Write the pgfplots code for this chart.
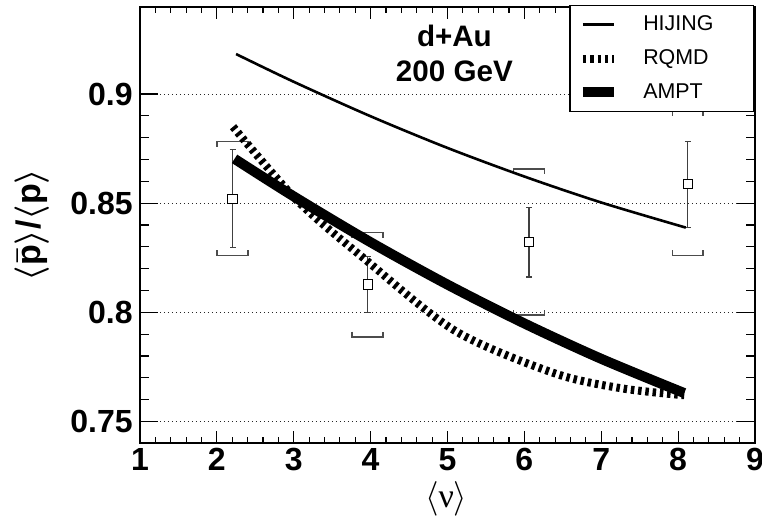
\documentclass[border=0pt]{standalone}
\usepackage{pgfplots}
\pgfplotsset{compat=1.18}
\usepackage{fontspec}
\setmainfont{Liberation Sans}
\newfontfamily\serifgr{Liberation Serif}
\begin{document}
\begin{tikzpicture}
\useasboundingbox (-70pt,-36.85pt) rectangle (311pt,221.65pt);
\begin{axis}[
  scale only axis, width=307.5pt, height=218.3pt,
  at={(0,0)}, anchor=south west,
  xmin=1, xmax=9, ymin=0.74, ymax=0.94,
  xtick={1,2,3,4,5,6,7,8,9}, xticklabels={1,2,3,4,5,6,7,8,9},
  ytick={0.75,0.8,0.85,0.9}, yticklabels={0.75,0.8,0.85,0.9},
  minor x tick num=4, minor y tick num=4,
  tick align=inside, tick pos=both,
  xtick style={black, line width=0.6pt, /pgfplots/major tick length=6pt, /pgfplots/minor tick length=3pt},
  ytick style={black, line width=0.6pt, /pgfplots/major tick length=9pt, /pgfplots/minor tick length=4.5pt},
  ymajorgrids, major grid style={black!85, line width=0.5pt, dash pattern=on 0.6pt off 1.4pt},
  axis line style={line width=0.9pt},
  tick label style={font=\fontsize{16}{18}\selectfont\bfseries},
  xticklabel style={inner sep=0pt, yshift=-2.4pt},
  yticklabel style={inner sep=0pt, xshift=-3.5pt},
  xlabel={$\langle$\serifgr ν$\rangle$},
  xlabel style={at={(axis description cs:0.498,-0.128)}, anchor=center, font=\fontsize{17}{20}\selectfont},
  ylabel={$\langle\bar{\mbox{p}}\rangle$/$\langle\mbox{p}\rangle$},
  ylabel style={at={(axis description cs:-0.176,0.5)}, anchor=center, font=\fontsize{17}{20}\selectfont\bfseries\boldmath},
  legend image code/.code={\draw[#1] (0pt,0pt) -- (15.5pt,0pt);},
  legend cell align=left,
  legend style={at={(axis description cs:1,1)}, anchor=north east, xshift=-0.5pt, yshift=0.85pt,
    draw=black, line width=0.7pt, fill=white, inner xsep=4pt, inner ysep=5pt, row sep=8pt,
    font=\fontsize{10.7}{12}\selectfont, nodes={inner sep=0pt},
    /tikz/every odd column/.append style={column sep=12.15pt}},
]
% systematic brackets
\addplot[forget plot, black!70, line width=0.8pt] coordinates {(2.003,0.8759) (2.003,0.8782) (2.405,0.8782) (2.405,0.8759)};
\addplot[forget plot, black!70, line width=0.8pt] coordinates {(2.003,0.8284) (2.003,0.8261) (2.405,0.8261) (2.405,0.8284)};
\addplot[forget plot, black!70, line width=0.8pt] coordinates {(3.760,0.8342) (3.760,0.8365) (4.162,0.8365) (4.162,0.8342)};
\addplot[forget plot, black!70, line width=0.8pt] coordinates {(3.760,0.7911) (3.760,0.7888) (4.162,0.7888) (4.162,0.7911)};
\addplot[forget plot, black!70, line width=0.8pt] coordinates {(5.860,0.8634) (5.860,0.8657) (6.262,0.8657) (6.262,0.8634)};
\addplot[forget plot, black!70, line width=0.8pt] coordinates {(5.860,0.8010) (5.860,0.7987) (6.262,0.7987) (6.262,0.8010)};
\addplot[forget plot, black!70, line width=0.8pt] coordinates {(7.925,0.8901) (7.925,0.8924) (8.327,0.8924) (8.327,0.8901)};
\addplot[forget plot, black!70, line width=0.8pt] coordinates {(7.925,0.8284) (7.925,0.8261) (8.327,0.8261) (8.327,0.8284)};
% data points
\addplot[forget plot, only marks, mark=square*, mark size=2.3pt,
  mark options={fill=white, draw=black, line width=0.5pt},
  error bars/.cd, y dir=both, y explicit,
  error bar style={black!75, line width=0.6pt},
  error mark options={rotate=90, mark size=1.5pt, black!75, line width=0.6pt}]
  table[x=x, y=y, y error=e] {
x y e
2.204 0.8520 0.0224
3.961 0.8127 0.0127
6.061 0.8321 0.0159
8.126 0.8586 0.0198
};
% HIJING
\addplot[black, line width=1.3pt, smooth] coordinates {
(2.25,0.9183) (3.0,0.9056) (4.0,0.8898) (5.0,0.8753) (6.0,0.8622) (7.0,0.8503) (8.10,0.8388)};
\addlegendentry{\makebox[51pt][l]{HIJING}}
% RQMD
\addplot[black, line width=4pt, dash pattern=on 1.75pt off 1.9pt, smooth] coordinates {
(2.21,0.8850) (3.05,0.8510) (3.92,0.8245) (5.10,0.7915) (6.39,0.7721) (7.26,0.7652) (8.08,0.7620)};
\addlegendentry{\makebox[51pt][l]{RQMD}}
% AMPT
\addplot[black, line width=5pt, smooth] coordinates {
(2.23,0.8703) (3.0,0.8531) (4.0,0.8321) (5.0,0.8127) (6.0,0.7949) (7.0,0.7787) (8.08,0.7630)};
\addlegendentry{\makebox[51pt][l]{AMPT}}
\node[font=\fontsize{14.8}{17}\selectfont\bfseries] at (axis cs:5.09,0.9266) {d+Au};
\node[font=\fontsize{14.8}{17}\selectfont\bfseries] at (axis cs:5.09,0.9102) {200 GeV};
\end{axis}
\end{tikzpicture}
\end{document}
